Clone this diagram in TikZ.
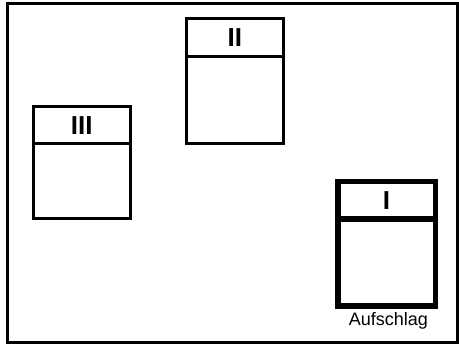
\documentclass[tikz,border=0pt]{standalone}
\usepackage{fontspec}
\setmainfont{Liberation Sans}
\usetikzlibrary{shapes,shapes.multipart}

\begin{document}
\begin{tikzpicture}[x=1pt,y=-1pt]
			\tikzstyle{fach}=[rectangle split, rectangle split parts=2, draw, line width=3pt, inner sep=0pt, outer sep=0pt, minimum width=97.5pt, anchor=north west, font=\bfseries\fontsize{26}{26}\selectfont]
			\tikzstyle{aufschlagfach}=[fach, line width=5.5pt]
			\useasboundingbox (0,0) rectangle (459,344);
			\draw[line width=3pt] (7.2,3.3) rectangle (457.7,342.5);
			\node[fach] (fachII) at (186,18.7) {II\rule[-8pt]{0pt}{34.5pt} \nodepart{two} \rule{0pt}{84.5pt}};
			\node[fach] (fachIII) at (33,106.3) {III\rule[-8pt]{0pt}{34.5pt} \nodepart{two} \rule{0pt}{72pt}};
			\node[aufschlagfach] (fachI) at (337.8,181.3) {I\rule[-6.75pt]{0pt}{32pt} \nodepart{two} \rule{0pt}{81.5pt}};
			\node[anchor=base, font=\fontsize{18}{18}\selectfont] (aufschlag) at (388.3,326) {Aufschlag};
		\end{tikzpicture}
\end{document}
